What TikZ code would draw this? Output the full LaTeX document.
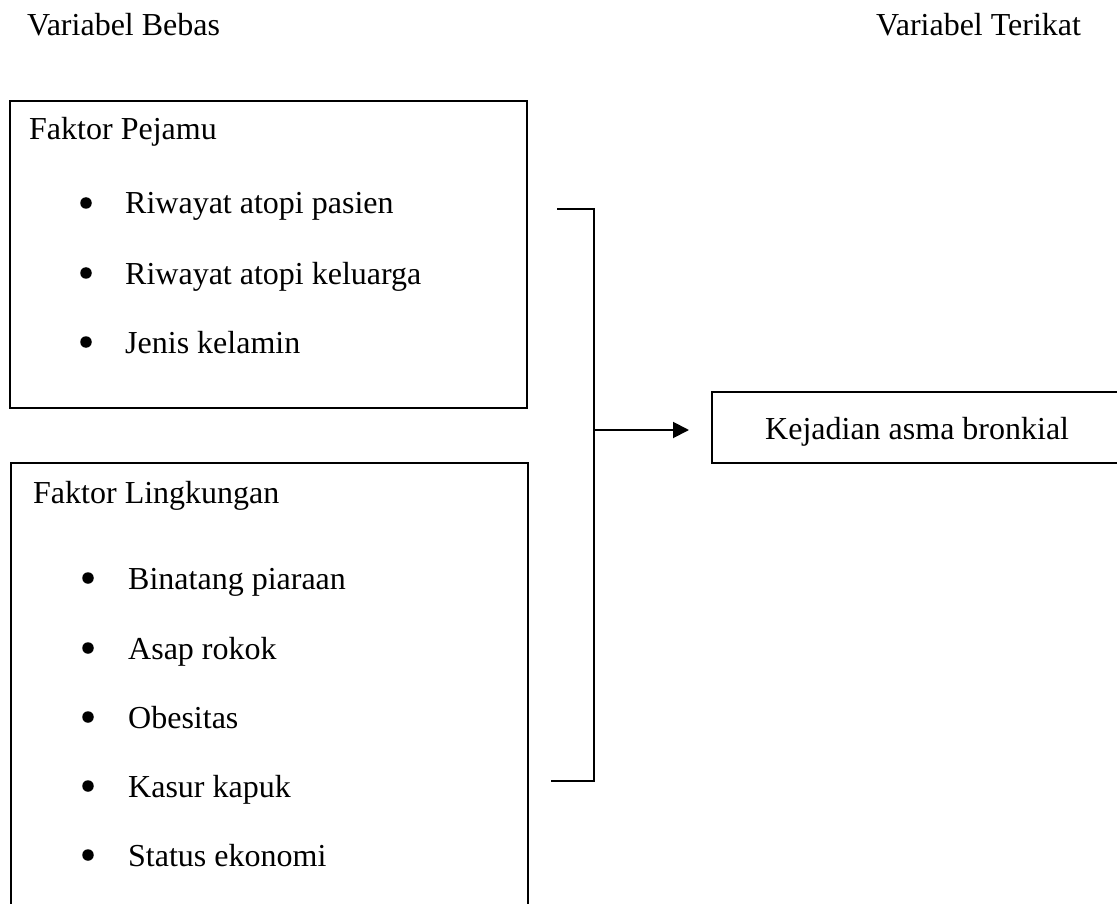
\documentclass[tikz,border=0pt]{standalone}
\usepackage{fontspec}
\setmainfont{Liberation Serif}
\usetikzlibrary{arrows.meta}
\begin{document}
\begin{tikzpicture}[x=1pt,y=-1pt,
  lbl/.style={anchor=base west,inner sep=0pt,font=\fontsize{32}{38}\selectfont},
  dot/.style={circle,fill=black,inner sep=0pt,minimum size=11.5pt},
  edge/.style={line width=1.9pt,line cap=rect},
  conn/.style={line width=1.9pt}]
\useasboundingbox (0,0) rectangle (1117,904);
% headings
\node[lbl] (vb) at (27,36) {Variabel Bebas};
\node[lbl] (vt) at (876,36) {Variabel Terikat};
% box 1
\node[draw,edge,anchor=north west,minimum width=517pt,minimum height=307pt,inner sep=0pt] (pejamu) at (9,100) {};
\node[lbl] (fp) at (29,140) {Faktor Pejamu};
\foreach \y/\t [count=\i] in {214/Riwayat atopi pasien,284/Riwayat atopi keluarga,353/Jenis kelamin}{
  \node[dot] (pd\i) at (86,\y-11) {};
  \node[lbl] (pt\i) at (125,\y) {\t};
}
% box 2 (open at the bottom)
\coordinate (l1) at (11,904);
\coordinate (l2) at (11,463);
\coordinate (l3) at (528,463);
\coordinate (l4) at (528,904);
\draw[edge] (l1) -- (l2) -- (l3) -- (l4);
\node[lbl] (fl) at (33,503) {Faktor Lingkungan};
\foreach \y/\t [count=\i] in {589/Binatang piaraan,659/Asap rokok,728/Obesitas,797/Kasur kapuk,866/Status ekonomi}{
  \node[dot] (ld\i) at (88,\y-11) {};
  \node[lbl] (lt\i) at (128,\y) {\t};
}
% result box (open at the right)
\coordinate (k1) at (1117,392);
\coordinate (k2) at (712,392);
\coordinate (k3) at (712,463);
\coordinate (k4) at (1117,463);
\draw[edge] (k1) -- (k2) -- (k3) -- (k4);
\node[lbl] (kej) at (765,439) {Kejadian asma bronkial};
% bracket
\coordinate (bt) at (557,209);
\coordinate (btc) at (594,209);
\coordinate (bbc) at (594,781);
\coordinate (bb) at (551,781);
\coordinate (bm) at (594,430);
\coordinate (at) at (689,430);
\draw[conn] (bt) -- (btc) -- (bbc) -- (bb);
\draw[conn,-{Triangle[length=16pt,width=16pt]}] (bm) -- (at);
\end{tikzpicture}
\end{document}
